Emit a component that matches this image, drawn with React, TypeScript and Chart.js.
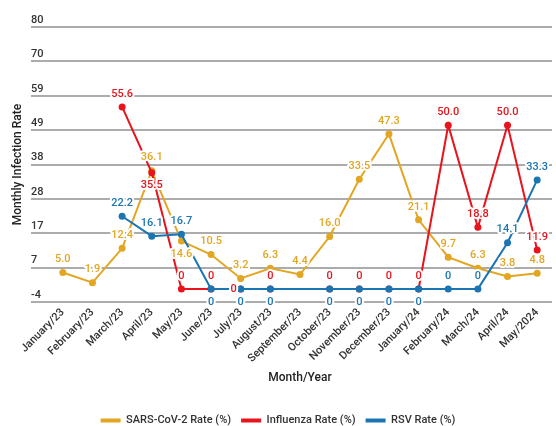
import { useEffect, useRef } from 'react';
import { Chart, registerables } from 'chart.js';

Chart.register(...registerables);

// Monthly categories
const MONTHS = [
  'January/23', 'February/23', 'March/23', 'April/23', 'May/23', 'June/23',
  'July/23', 'August/23', 'September/23', 'October/23', 'November/23',
  'December/23', 'January/24', 'February/24', 'March/24', 'April/24', 'May/2024',
];

// Infection rates (%) per month; null = no report
const SARS_COV_2 = [5.0, 1.9, 12.4, 36.1, 14.6, 10.5, 3.2, 6.3, 4.4, 16.0, 33.5, 47.3, 21.1, 9.7, 6.3, 3.8, 4.8];
const INFLUENZA = [null, null, 55.6, 35.5, 0, 0, 0, 0, null, 0, 0, 0, 0, 50.0, 18.8, 50.0, 11.9];
const RSV = [null, null, 22.2, 16.1, 16.7, 0, 0, 0, null, 0, 0, 0, 0, 0, 0, 14.1, 33.3];

// Y axis range, tick step and the printed tick labels
const Y_MIN = -4;
const Y_MAX = 80;
const Y_STEP = 10.5;
const Y_TICK_LABELS = ['-4', '7', '17', '28', '38', '49', '59', '70', '80'];

const SERIES_NAMES = ['SARS-CoV-2 Rate (%)', 'Influenza Rate (%)', 'RSV Rate (%)'];

const GOLD = '#E2A622';
const RED = '#E8131C';
const BLUE = '#1B75B3';
const GRID = '#acacac';
const FONT = 'Roboto, "Noto Sans", sans-serif';
const GRID_LEAD = 17; // gridlines run out under the tick labels

// Where each value label sits relative to its point: a = above, b = below, l = left
const LABEL_SIDES = [
  'aaaabaaaaaaaaaaaa',
  'aaabaalaaaaaaaaaa',
  'aaaaabbbabbbbaaaa',
];

const valueLabels = {
  id: 'valueLabels',
  afterDatasetsDraw(chart: any) {
    const ctx = chart.ctx as CanvasRenderingContext2D;
    ctx.save();
    ctx.font = `500 11px ${FONT}`;
    ctx.textAlign = 'center';
    ctx.textBaseline = 'middle';
    ctx.lineJoin = 'round';
    ctx.lineWidth = 4;
    ctx.strokeStyle = '#ffffff';
    chart.data.datasets.forEach((ds: any, di: number) => {
      const meta = chart.getDatasetMeta(di);
      const sides = LABEL_SIDES[di];
      meta.data.forEach((pt: any, i: number) => {
        const v = ds.data[i];
        if (v === null || v === undefined) return;
        const text = v === 0 ? '0' : v.toFixed(1);
        let x = pt.x;
        let y = pt.y;
        const side = sides[i];
        if (side === 'b') y += 13;
        else if (side === 'l') x -= 7;
        else y -= 13;
        ctx.strokeText(text, x, y);
        ctx.fillStyle = ds.borderColor;
        ctx.fillText(text, x, y);
      });
    });
    ctx.restore();
  },
};

function makeSeries(label: string, data: (number | null)[], color: string, order: number) {
  return {
    label,
    data,
    fill: false,
    borderColor: color,
    backgroundColor: color,
    pointBackgroundColor: color,
    pointBorderColor: color,
    pointRadius: 3.5,
    pointBorderWidth: 0,
    borderWidth: 2,
    tension: 0,
    spanGaps: true,
    order,
  };
}

export default function App() {
  const canvasRef = useRef<HTMLCanvasElement | null>(null);

  useEffect(() => {
    if (!canvasRef.current) return;
    const chart = new Chart(canvasRef.current, {
      type: 'line',
      data: {
        labels: MONTHS,
        datasets: [
          makeSeries(SERIES_NAMES[0], SARS_COV_2, GOLD, 3),
          makeSeries(SERIES_NAMES[1], INFLUENZA, RED, 2),
          makeSeries(SERIES_NAMES[2], RSV, BLUE, 1),
        ],
      },
      options: {
        animation: false,
        responsive: true,
        maintainAspectRatio: false,
        layout: { padding: { left: 4, right: 4, top: 27, bottom: -10 } },
        plugins: {
          tooltip: { enabled: false },
          legend: {
            position: 'bottom',
            labels: {
              color: '#333333',
              font: { family: FONT, size: 11, weight: '500' },
              boxWidth: 20,
              boxHeight: 4,
              padding: 10,
              generateLabels: (c: any) =>
                Chart.defaults.plugins.legend.labels
                  .generateLabels(c)
                  .map((l: any) => ({ ...l, lineWidth: 0, fillStyle: l.strokeStyle }))
                  .sort((a: any, b: any) => a.datasetIndex - b.datasetIndex),
            },
          },
        },
        scales: {
          x: {
            offset: true,
            grid: { display: false, drawTicks: false },
            border: { display: false },
            ticks: {
              autoSkip: false,
              minRotation: 45,
              maxRotation: 45,
              padding: 4,
              color: '#333333',
              font: { family: FONT, size: 11, weight: '500' },
            },
            title: {
              display: true,
              text: 'Month/Year',
              color: '#222222',
              font: { family: FONT, size: 12, weight: '500' },
              padding: { top: 4, bottom: 20 },
            },
            afterFit: (scale: any) => {
              scale.height = 103;
            },
          },
          y: {
            min: Y_MIN,
            max: Y_MAX,
            grid: {
              color: GRID,
              tickColor: GRID,
              lineWidth: 2,
              tickWidth: 2,
              tickLength: GRID_LEAD,
              drawTicks: true,
            },
            border: { display: false },
            ticks: {
              stepSize: Y_STEP,
              mirror: true,
              padding: -GRID_LEAD,
              labelOffset: -7,
              color: '#333333',
              font: { family: FONT, size: 11, weight: '500' },
              callback: (_v: any, i: number) => Y_TICK_LABELS[i],
            },
            title: {
              display: true,
              text: 'Monthly Infection Rate',
              color: '#222222',
              font: { family: FONT, size: 12, weight: '500' },
              padding: { top: 7, bottom: 0 },
            },
            afterFit: (scale: any) => {
              scale.width = 44;
            },
          },
        },
      },
      plugins: [valueLabels],
    });
    return () => chart.destroy();
  }, []);

  return (
    <div style={{ position: 'absolute', left: 0, top: 0, width: 556, height: 426 }}>
      <canvas ref={canvasRef} />
    </div>
  );
}
